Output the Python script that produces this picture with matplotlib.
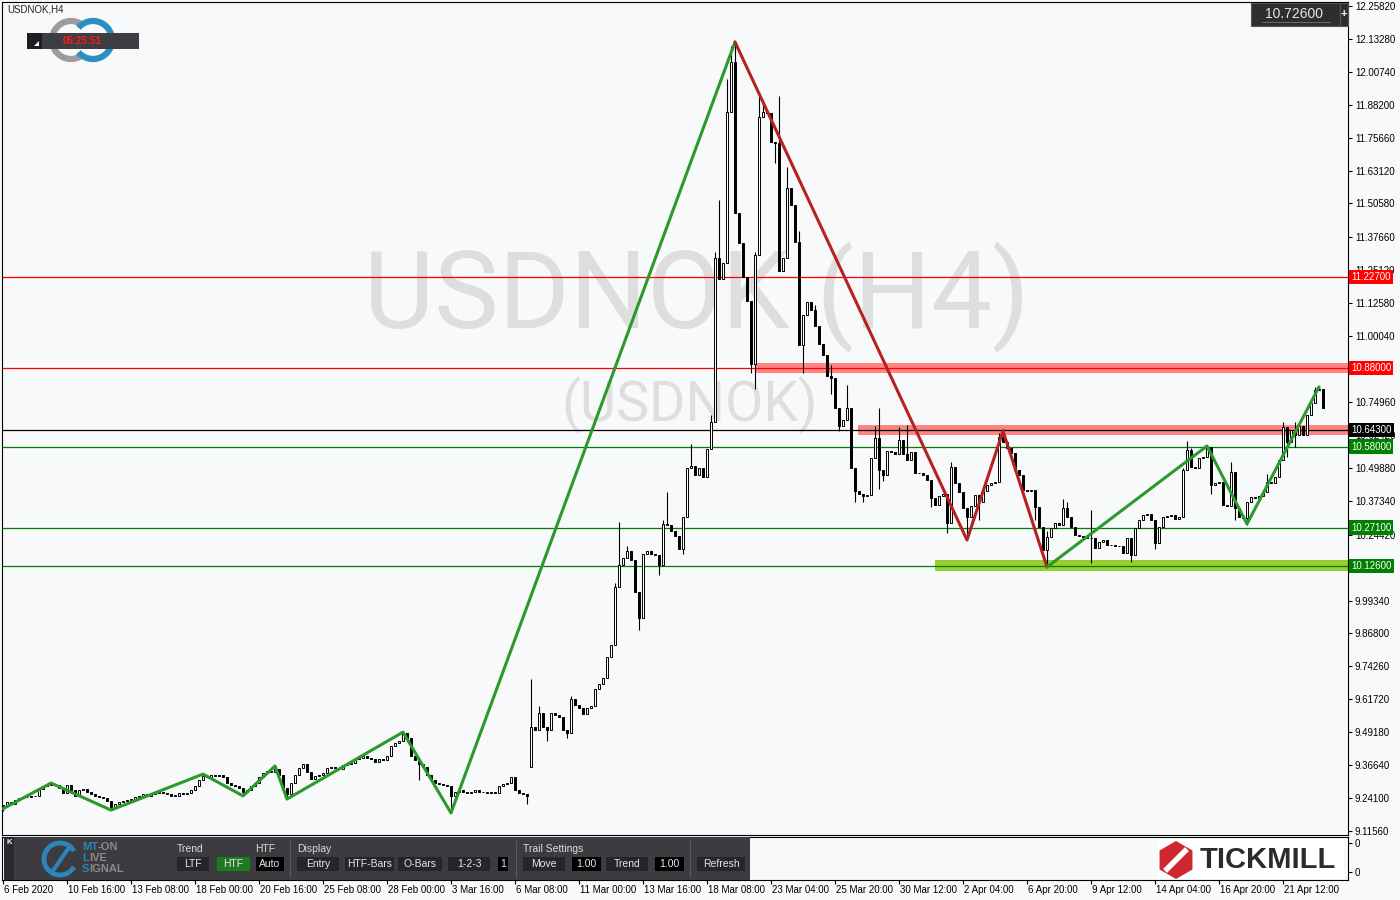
import matplotlib
matplotlib.use("Agg")
import matplotlib.pyplot as plt
import matplotlib.transforms as mtransforms
from matplotlib.patches import Rectangle, Arc, RegularPolygon, Polygon

plt.rcParams['font.family'] = ['Liberation Sans', 'DejaVu Sans']

# ---- USDNOK H4 closes (one per bar, 6 Feb .. 22 Apr 2020)
closes = [
    9.215, 9.225, 9.22, 9.235, 9.24, 9.245, 9.245, 9.248, 9.25, 9.275, 9.285, 9.29, 9.295, 9.29, 9.28, 9.26,
    9.29, 9.27, 9.25, 9.27, 9.275, 9.265, 9.255, 9.25, 9.245, 9.24, 9.23, 9.205, 9.22, 9.225, 9.23, 9.235,
    9.235, 9.245, 9.25, 9.255, 9.25, 9.255, 9.26, 9.265, 9.26, 9.255, 9.25, 9.25, 9.26, 9.255, 9.26, 9.27,
    9.285, 9.31, 9.325, 9.32, 9.33, 9.325, 9.33, 9.32, 9.30, 9.29, 9.285, 9.28, 9.265, 9.27, 9.285, 9.30,
    9.32, 9.335, 9.345, 9.34, 9.35, 9.33, 9.28, 9.255, 9.30, 9.33, 9.355, 9.37, 9.34, 9.315, 9.325, 9.33,
    9.335, 9.355, 9.36, 9.355, 9.35, 9.365, 9.37, 9.375, 9.39, 9.395, 9.40, 9.395, 9.39, 9.38, 9.39, 9.385,
    9.40, 9.44, 9.45, 9.46, 9.49, 9.47, 9.40, 9.385, 9.37, 9.36, 9.33, 9.31, 9.30, 9.295, 9.29, 9.285,
    9.25, 9.265, 9.27, 9.265, 9.26, 9.265, 9.27, 9.265, 9.265, 9.26, 9.265, 9.26, 9.285, 9.295, 9.30, 9.32,
    9.27, 9.26, 9.255, 9.25,
    9.51, 9.50, 9.565, 9.51, 9.50, 9.565, 9.557, 9.55, 9.50, 9.49, 9.62, 9.595, 9.585, 9.56, 9.585, 9.59,
    9.656, 9.675, 9.70, 9.778, 9.824, 10.045, 10.128, 10.155, 10.183, 10.148, 10.026, 9.927, 10.17, 10.183, 10.17, 10.165,
    10.13, 10.285, 10.28, 10.26, 10.24, 10.19, 10.31, 10.498, 10.506, 10.47, 10.50, 10.465, 10.57, 10.673, 11.30, 11.22,
    11.28, 11.855, 12.045, 11.47, 11.355, 11.226, 11.135, 10.894, 11.31, 11.835, 11.855, 11.85, 11.74, 11.735, 11.25, 11.30,
    11.565, 11.50, 11.36, 10.966, 11.08, 11.13, 11.10, 11.04, 10.97, 10.93, 10.85, 10.84, 10.727, 10.66, 10.68, 10.728,
    10.498, 10.41, 10.40, 10.39, 10.395, 10.536, 10.612, 10.49, 10.47, 10.563, 10.56, 10.55, 10.605, 10.55, 10.53, 10.56,
    10.48, 10.48, 10.47, 10.453, 10.384, 10.357, 10.39, 10.40, 10.29, 10.502, 10.44, 10.408, 10.346, 10.31, 10.355, 10.395,
    10.37, 10.41, 10.433, 10.44, 10.445, 10.616, 10.597, 10.575, 10.555, 10.49, 10.47, 10.414, 10.41, 10.415, 10.35, 10.273,
    10.186, 10.235, 10.269, 10.289, 10.28, 10.346, 10.31, 10.273, 10.243, 10.24, 10.236, 10.232, 10.232, 10.193, 10.216, 10.225,
    10.205, 10.205, 10.20, 10.20, 10.174, 10.231, 10.166, 10.269, 10.30, 10.319, 10.322, 10.30, 10.212, 10.273, 10.311, 10.315,
    10.318, 10.305, 10.311, 10.49, 10.566, 10.502, 10.50, 10.536, 10.54, 10.578, 10.433, 10.44, 10.445, 10.357, 10.355, 10.483,
    10.346, 10.311, 10.307, 10.369, 10.388, 10.384, 10.39, 10.407, 10.445, 10.44, 10.464, 10.529, 10.654, 10.597, 10.643, 10.624,
    10.66, 10.624, 10.70, 10.746, 10.795, 10.80, 10.727,
]
first_open = 9.21
gap_opens = {132: 9.36}

# visible wicks (bar index -> price)
wick_highs = {12: 9.30, 50: 9.335, 68: 9.365, 100: 9.497, 132: 9.694, 134: 9.59, 142: 9.63,
              153: 10.06, 154: 10.294, 156: 10.20, 165: 10.30, 166: 10.405, 172: 10.59, 177: 10.70,
              178: 11.32, 179: 11.52, 181: 11.98, 182: 12.105, 183: 12.121, 188: 11.32, 189: 11.93,
              190: 11.90, 194: 11.915, 196: 11.645, 199: 11.40, 203: 11.12, 207: 10.89, 211: 10.815,
              218: 10.66, 219: 10.727, 224: 10.655, 226: 10.662, 237: 10.52, 249: 10.63, 250: 10.645,
              261: 10.26, 265: 10.38, 266: 10.37, 272: 10.338, 295: 10.50, 296: 10.60, 297: 10.575,
              301: 10.585, 307: 10.52, 316: 10.475, 320: 10.675, 323: 10.675, 328: 10.807, 329: 10.81}
wick_lows = {0: 9.19, 27: 9.195, 60: 9.25, 71: 9.237, 104: 9.31, 112: 9.184, 131: 9.22, 136: 9.46,
             141: 9.47, 159: 9.88, 164: 10.09, 170: 10.17, 187: 10.86, 188: 10.80, 193: 11.66,
             200: 10.86, 207: 10.78, 209: 10.64, 213: 10.37, 215: 10.37, 219: 10.42, 220: 10.45,
             232: 10.35, 236: 10.25, 241: 10.224, 244: 10.30, 258: 10.30, 261: 10.121, 272: 10.136,
             282: 10.14, 288: 10.19, 302: 10.40, 308: 10.30, 311: 10.28, 321: 10.54, 323: 10.58}

# zigzag swing points (bar index, price)
zz_green_a_bars = [0, 12, 27, 50, 60, 68, 71, 100, 112, 183]
zz_green_a_prices = [9.200, 9.298, 9.195, 9.332, 9.249, 9.363, 9.237, 9.492, 9.184, 12.121]
zz_red_bars = [183, 241, 250, 261]
zz_red_prices = [12.121, 10.224, 10.639, 10.121]
zz_green_b_bars = [261, 301, 311, 329]
zz_green_b_prices = [10.121, 10.582, 10.285, 10.807]

levels = [11.227, 10.880, 10.643, 10.580, 10.271, 10.126]
level_colors = ["#ff0000", "#ff0000", "#000000", "#008000", "#008000", "#008000"]
zone_starts = [188, 213.75, 233]
zone_lows = [10.861, 10.624, 10.106]
zone_highs = [10.899, 10.662, 10.148]
zone_colors = ["#ff8585", "#ff8585", "#9acd32"]

# price scale ticks that are visible (10.87500 and 10.11880 sit fully under level labels)
price_ticks = [12.2582, 12.1328, 12.0074, 11.8820, 11.7566, 11.6312, 11.5058, 11.3766, 11.2512,
               11.1258, 11.0004, 10.7496, 10.6242, 10.4988, 10.3734, 10.2442,
               9.9934, 9.8680, 9.7426, 9.6172, 9.4918, 9.3664, 9.2410, 9.1156]
time_labels = ["6 Feb 2020", "10 Feb 16:00", "13 Feb 08:00", "18 Feb 00:00", "20 Feb 16:00",
               "25 Feb 08:00", "28 Feb 00:00", "3 Mar 16:00", "6 Mar 08:00", "11 Mar 00:00",
               "13 Mar 16:00", "18 Mar 08:00", "23 Mar 04:00", "25 Mar 20:00", "30 Mar 12:00",
               "2 Apr 04:00", "6 Apr 20:00", "9 Apr 12:00", "14 Apr 04:00", "16 Apr 20:00",
               "21 Apr 12:00"]
bars_per_label = 16

bg = "#f8f9fb"
fig = plt.figure(figsize=(14, 9), dpi=100, facecolor=bg)
W, H = 1400.0, 900.0
ax = fig.add_axes([2 / W, 65 / H, 1346 / W, 833 / H], facecolor=bg)
ax.set_xlim(-0.25, 336.25)
ax.set_ylim(9.1001, 12.2734)

# watermark
ax.text(0.516, 0.645, "USDNOK (H4)", transform=ax.transAxes, ha="center", va="center",
        fontsize=78, color="#dedede", family=["Roboto", "DejaVu Sans"], zorder=0.5)
ax.text(0.511, 0.516, "(USDNOK)", transform=ax.transAxes, ha="center", va="center",
        fontsize=40, color="#dedede", family=["Roboto", "DejaVu Sans"], zorder=0.5)

# zones and levels
for s, lo, hi, c in zip(zone_starts, zone_lows, zone_highs, zone_colors):
    ax.add_patch(Rectangle((s, lo), 400, hi - lo, facecolor=c, edgecolor="none", zorder=1))
for lv, c in zip(levels, level_colors):
    ax.axhline(lv, color=c, lw=0.9, zorder=1.5)

# candles
opens = []
for i in range(len(closes)):
    o = first_open if i == 0 else closes[i - 1]
    opens.append(gap_opens.get(i, o))
xs = list(range(len(closes)))
bottoms = [min(o, c) for o, c in zip(opens, closes)]
heights = [max(abs(c - o), 0.0008) for o, c in zip(opens, closes)]
colors = ["white" if c >= o else "black" for o, c in zip(opens, closes)]
highs = [wick_highs.get(i, max(opens[i], closes[i])) for i in xs]
lows = [wick_lows.get(i, min(opens[i], closes[i])) for i in xs]
ax.vlines(xs, lows, highs, color="black", lw=0.8, zorder=2.9)
ax.bar(xs, heights, bottom=bottoms, width=0.6, color=colors, edgecolor="black",
       linewidth=0.7, zorder=3)

# zigzag
ax.plot(zz_green_a_bars, zz_green_a_prices, color="#2a9a2a", lw=2.2, zorder=4, solid_capstyle="round")
ax.plot(zz_red_bars, zz_red_prices, color="#b52222", lw=2.2, zorder=4, solid_capstyle="round")
ax.plot(zz_green_b_bars, zz_green_b_prices, color="#2a9a2a", lw=2.2, zorder=4, solid_capstyle="round")

# right price axis
ax.yaxis.tick_right()
ax.set_yticks(price_ticks)
ax.set_yticklabels([f"{v:.5f}" for v in price_ticks])
ax.tick_params(axis="y", labelsize=7, length=3, width=0.8, pad=2, colors="black")
ax.set_xticks([])
for sp in ax.spines.values():
    sp.set_color("black")
    sp.set_linewidth(0.8)

lab_tr = mtransforms.blended_transform_factory(ax.transAxes, ax.transData)
for lv, c in zip(levels, level_colors):
    ax.text(1.0 + 3 / 1346, lv, f"{lv:.5f}", transform=lab_tr, ha="left", va="center",
            fontsize=7, color="white", clip_on=False, zorder=20,
            bbox=dict(boxstyle="square,pad=0.22", fc=c, ec="none"))

# indicator sub window with time axis
ax2 = fig.add_axes([2 / W, 20 / H, 1346 / W, 43 / H], facecolor=bg)
ax2.set_xlim(ax.get_xlim())
ax2.set_ylim(0, 1)
ax2.yaxis.tick_right()
ax2.set_yticks([0.19, 0.86])
ax2.set_yticklabels(["0", "0"])
ax2.tick_params(axis="y", labelsize=7, length=3, pad=2)
ax2.set_xticks([i * bars_per_label for i in range(len(time_labels))])
ax2.set_xticklabels(time_labels)
ax2.tick_params(axis="x", labelsize=7, length=3, pad=0.5)
offset = mtransforms.ScaledTranslation(1 / 100, 0, fig.dpi_scale_trans)
for lbl in ax2.get_xticklabels():
    lbl.set_ha("left")
    lbl.set_transform(lbl.get_transform() + offset)
for sp in ax2.spines.values():
    sp.set_color("black")
    sp.set_linewidth(0.8)

# overlay in pixel coordinates for the terminal decorations
ov = fig.add_axes([0, 0, 1, 1], zorder=10)
ov.set_xlim(0, W)
ov.set_ylim(H, 0)
ov.axis("off")

ov.text(7, 10, "USDNOK,H4", fontsize=7, color="#222222", va="center", ha="left")
ov.add_patch(Arc((71, 40), 38, 38, theta1=60, theta2=300, lw=4.5, color="#9c9c9c"))
ov.add_patch(Arc((93, 40), 38, 38, theta1=-140, theta2=140, lw=4.5, color="#2a8fc1"))
ov.add_patch(Rectangle((27, 33), 112, 16, fc="#3d3d42", ec="none"))
ov.add_patch(Rectangle((27, 33), 15, 16, fc="#1e1e20", ec="none"))
ov.add_patch(Polygon([(34, 46), (39, 46), (39, 41)], closed=True, fc="white", ec="none"))
ov.text(82, 41, "05:25:51", fontsize=7, color="#ff1a1a", weight="bold", ha="center", va="center")

# current price box
ov.add_patch(Rectangle((1251, 3), 89, 23, fc="#2e2e31", ec="#555555", lw=0.8))
ov.plot([1262, 1330], [22, 22], color="#777777", lw=0.6)
ov.text(1294, 14.5, "10.72600", fontsize=10, color="#e6e6e6", ha="center", va="center")
ov.add_patch(Rectangle((1340, 3), 8, 23, fc="#2e2e31", ec="#555555", lw=0.8))
ov.text(1344, 14.5, "+", fontsize=8, color="white", ha="center", va="center", weight="bold")

# MT-ON panel
ov.add_patch(Rectangle((4, 837), 746, 43, fc="#3b3b40", ec="none"))
ov.add_patch(Rectangle((4, 837), 10, 43, fc="#2a2a2e", ec="none"))
ov.text(9, 843, "K", fontsize=5.5, color="white", ha="center", va="center", weight="bold")
ov.add_patch(Arc((60, 859), 32, 32, theta1=30, theta2=330, lw=3.5, color="#2c84b8"))
ov.plot([52, 70], [872, 846], color="#2c84b8", lw=3)
for ty, first, rest in [(847, "MT", "-ON"), (858, "L", "IVE"), (869, "S", "IGNAL")]:
    t1 = ov.text(82, ty, first, fontsize=8, color="#2c84b8", weight="bold", va="center", ha="left")
    ov.annotate(rest, xycoords=t1, xy=(1, 0.5), va="center", ha="left",
                fontsize=8, color="#8a8a8a", weight="bold")
for hx, ht in [(177, "Trend"), (255, "HTF"), (297, "Display"), (523, "Trail Settings")]:
    ov.text(hx, 849, ht, fontsize=7.5, color="#dcdcdc", ha="left", va="center")
for sx in [290, 516, 690]:
    ov.plot([sx, sx], [841, 877], color="#5a5a5e", lw=0.8)
panel_buttons = [(177, 209, "LTF", "#26262a"), (217, 250, "HTF", "#1f7a1f"), (256, 284, "Auto", "#000000"),
                 (297, 339, "Entry", "#26262a"), (345, 394, "HTF-Bars", "#26262a"), (398, 442, "O-Bars", "#26262a"),
                 (448, 490, "1-2-3", "#26262a"), (498, 508, "1", "#000000"), (523, 565, "Move", "#26262a"),
                 (572, 601, "1.00", "#000000"), (606, 648, "Trend", "#26262a"), (655, 684, "1.00", "#000000"),
                 (697, 745, "Refresh", "#26262a")]
for x0, x1, txt, fc in panel_buttons:
    ov.add_patch(Rectangle((x0, 857), x1 - x0, 14, fc=fc, ec="none"))
    ov.text((x0 + x1) / 2, 864, txt, fontsize=7.5, color="#e6e6e6", ha="center", va="center")

# Tickmill logo
ov.add_patch(Rectangle((1158, 839), 186, 40, fc="white", ec="none"))
ov.add_patch(RegularPolygon((1176, 860), numVertices=6, radius=19, orientation=0, fc="#d0262d", ec="none"))
ov.plot([1167, 1185], [869, 851], color="white", lw=4)
ov.add_patch(Rectangle((1170, 854), 12, 12, fc="#d0262d", ec="none"))
ov.text(1200, 860, "TICKMILL", fontsize=21, weight="bold", color="#2b2b2b", ha="left", va="center")

fig.savefig("out.png", dpi=100, facecolor=bg)
